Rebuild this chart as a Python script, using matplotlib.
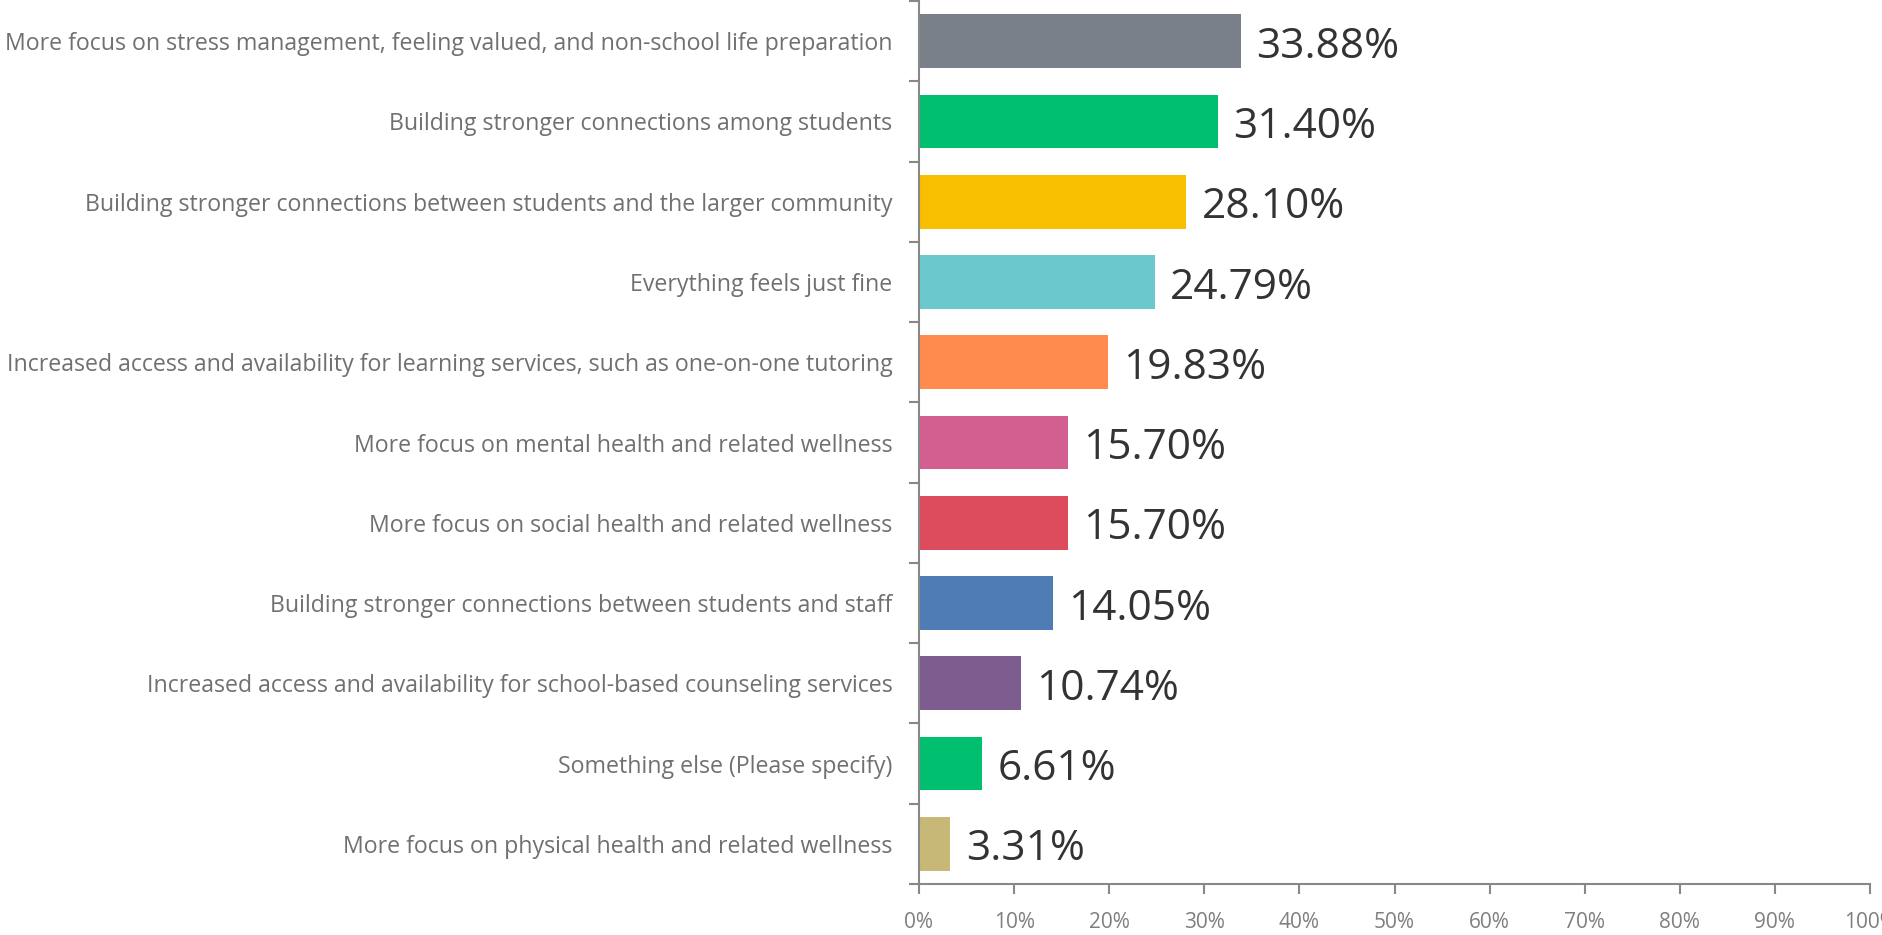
import matplotlib
matplotlib.use("Agg")
import matplotlib.pyplot as plt
import numpy as np
from matplotlib.ticker import PercentFormatter, FixedLocator

categories = [
    "More focus on stress management, feeling valued, and non-school life preparation",
    "Building stronger connections among students",
    "Building stronger connections between students and the larger community",
    "Everything feels just fine",
    "Increased access and availability for learning services, such as one-on-one tutoring",
    "More focus on mental health and related wellness",
    "More focus on social health and related wellness",
    "Building stronger connections between students and staff",
    "Increased access and availability for school-based counseling services",
    "Something else (Please specify)",
    "More focus on physical health and related wellness",
]
values = [33.88, 31.40, 28.10, 24.79, 19.83, 15.70, 15.70, 14.05, 10.74, 6.61, 3.31]
colors = ["#7a8089", "#00bf6f", "#f8be00", "#6bc8cd", "#ff8b4f", "#d25f90",
          "#dc4c5d", "#507cb6", "#7d5d8f", "#00bf6f", "#c8b878"]
x_ticks = [0, 10, 20, 30, 40, 50, 60, 70, 80, 90, 100]

plt.rcParams['font.family'] = ['Open Sans', 'DejaVu Sans']

fig = plt.figure(figsize=(18.83, 9.35), dpi=100)
ax = fig.add_axes([919/1883, 1 - 884/935, (1870 - 919)/1883, (884 - 1)/935])

n = len(categories)
y = np.arange(n)
ax.barh(y, values, height=0.67, color=colors)
ax.set_ylim(n - 0.5, -0.5)
ax.set_xlim(0, 100)

for yi, v in zip(y, values):
    ax.annotate(f"{v:.2f}%", (v, yi), xytext=(11, -4), textcoords="offset points",
                va="center", ha="left", fontsize=30.5, color="#333333")

ax.set_yticks(y)
ax.set_yticklabels(categories, fontsize=16.7, color="#707070")
ax.tick_params(axis="y", which="major", length=0, pad=19)
ax.yaxis.set_minor_locator(FixedLocator(np.arange(-0.5, n, 1.0)))
ax.tick_params(axis="y", which="minor", length=7, width=1.5, color="#888888")

ax.set_xticks(x_ticks)
ax.xaxis.set_major_formatter(PercentFormatter(decimals=0))
ax.tick_params(axis="x", which="major", length=7, width=1.5, color="#888888",
               labelsize=15, labelcolor="#7f7f7f", pad=13)

for s in ["top", "right"]:
    ax.spines[s].set_visible(False)
for s in ["left", "bottom"]:
    ax.spines[s].set_color("#888888")
    ax.spines[s].set_linewidth(1.5)

fig.savefig("out.png", dpi=100)
